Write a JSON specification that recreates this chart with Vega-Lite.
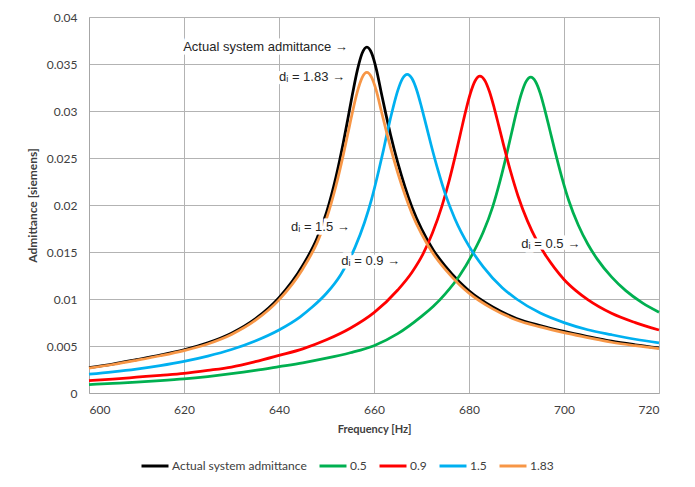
{
  "$schema": "https://vega.github.io/schema/vega-lite/v6.json",
  "width": 570,
  "height": 376,
  "autosize": {"type": "none"},
  "padding": {"left": 89, "top": 17, "right": 36, "bottom": 94},
  "background": "white",
  "config": {
    "view": {"stroke": null},
    "axis": {"gridColor": "#b3b3b3", "gridWidth": 1, "domainColor": "#a6a6a6", "labelFont": "Lato", "labelFontSize": 12, "labelColor": "#404040", "titleFont": "Lato", "titleFontSize": 11, "titleFontWeight": "bold", "titleColor": "#404040", "ticks": false}
  },
  "datasets": {
    "curves": [
      {"f": 600, "y": 0.0027, "s": "Actual system admittance"},
      {"f": 605, "y": 0.00308, "s": "Actual system admittance"},
      {"f": 610, "y": 0.00355, "s": "Actual system admittance"},
      {"f": 615, "y": 0.00404, "s": "Actual system admittance"},
      {"f": 620, "y": 0.0046, "s": "Actual system admittance"},
      {"f": 625, "y": 0.00533, "s": "Actual system admittance"},
      {"f": 630, "y": 0.00636, "s": "Actual system admittance"},
      {"f": 635, "y": 0.00788, "s": "Actual system admittance"},
      {"f": 640, "y": 0.01014, "s": "Actual system admittance"},
      {"f": 645, "y": 0.01356, "s": "Actual system admittance"},
      {"f": 648, "y": 0.01646, "s": "Actual system admittance"},
      {"f": 650, "y": 0.0192, "s": "Actual system admittance"},
      {"f": 652, "y": 0.02299, "s": "Actual system admittance"},
      {"f": 653.5, "y": 0.02653, "s": "Actual system admittance"},
      {"f": 654.5, "y": 0.02917, "s": "Actual system admittance"},
      {"f": 655.5, "y": 0.03188, "s": "Actual system admittance"},
      {"f": 656.5, "y": 0.03435, "s": "Actual system admittance"},
      {"f": 657.5, "y": 0.03614, "s": "Actual system admittance"},
      {"f": 658.5, "y": 0.0368, "s": "Actual system admittance"},
      {"f": 659.5, "y": 0.03616, "s": "Actual system admittance"},
      {"f": 660.5, "y": 0.03443, "s": "Actual system admittance"},
      {"f": 661.5, "y": 0.03203, "s": "Actual system admittance"},
      {"f": 662.5, "y": 0.02967, "s": "Actual system admittance"},
      {"f": 663.5, "y": 0.02745, "s": "Actual system admittance"},
      {"f": 665, "y": 0.0245, "s": "Actual system admittance"},
      {"f": 666.5, "y": 0.02196, "s": "Actual system admittance"},
      {"f": 668, "y": 0.01977, "s": "Actual system admittance"},
      {"f": 670, "y": 0.01746, "s": "Actual system admittance"},
      {"f": 672.5, "y": 0.0152, "s": "Actual system admittance"},
      {"f": 675, "y": 0.01349, "s": "Actual system admittance"},
      {"f": 678, "y": 0.0118, "s": "Actual system admittance"},
      {"f": 680, "y": 0.01087, "s": "Actual system admittance"},
      {"f": 685, "y": 0.00915, "s": "Actual system admittance"},
      {"f": 690, "y": 0.00793, "s": "Actual system admittance"},
      {"f": 695, "y": 0.00717, "s": "Actual system admittance"},
      {"f": 700, "y": 0.00655, "s": "Actual system admittance"},
      {"f": 705, "y": 0.00601, "s": "Actual system admittance"},
      {"f": 710, "y": 0.00551, "s": "Actual system admittance"},
      {"f": 715, "y": 0.00513, "s": "Actual system admittance"},
      {"f": 720, "y": 0.0048, "s": "Actual system admittance"},

      {"f": 600, "y": 0.0009, "s": "0.5"},
      {"f": 605, "y": 0.00102, "s": "0.5"},
      {"f": 610, "y": 0.00115, "s": "0.5"},
      {"f": 615, "y": 0.00131, "s": "0.5"},
      {"f": 620, "y": 0.0015, "s": "0.5"},
      {"f": 625, "y": 0.00175, "s": "0.5"},
      {"f": 630, "y": 0.00205, "s": "0.5"},
      {"f": 635, "y": 0.0024, "s": "0.5"},
      {"f": 640, "y": 0.0028, "s": "0.5"},
      {"f": 645, "y": 0.00321, "s": "0.5"},
      {"f": 650, "y": 0.0037, "s": "0.5"},
      {"f": 655, "y": 0.00428, "s": "0.5"},
      {"f": 660, "y": 0.00503, "s": "0.5"},
      {"f": 665, "y": 0.00631, "s": "0.5"},
      {"f": 670, "y": 0.00815, "s": "0.5"},
      {"f": 672.5, "y": 0.00922, "s": "0.5"},
      {"f": 675, "y": 0.01055, "s": "0.5"},
      {"f": 678, "y": 0.01248, "s": "0.5"},
      {"f": 681, "y": 0.01503, "s": "0.5"},
      {"f": 683, "y": 0.01712, "s": "0.5"},
      {"f": 685, "y": 0.01983, "s": "0.5"},
      {"f": 686.5, "y": 0.02248, "s": "0.5"},
      {"f": 688, "y": 0.02554, "s": "0.5"},
      {"f": 689, "y": 0.02774, "s": "0.5"},
      {"f": 690, "y": 0.0299, "s": "0.5"},
      {"f": 691, "y": 0.03179, "s": "0.5"},
      {"f": 692, "y": 0.03312, "s": "0.5"},
      {"f": 693, "y": 0.0336, "s": "0.5"},
      {"f": 694, "y": 0.03314, "s": "0.5"},
      {"f": 695, "y": 0.03188, "s": "0.5"},
      {"f": 696, "y": 0.03005, "s": "0.5"},
      {"f": 697, "y": 0.02801, "s": "0.5"},
      {"f": 698, "y": 0.02595, "s": "0.5"},
      {"f": 699.5, "y": 0.02303, "s": "0.5"},
      {"f": 701, "y": 0.02048, "s": "0.5"},
      {"f": 703, "y": 0.01787, "s": "0.5"},
      {"f": 705, "y": 0.01585, "s": "0.5"},
      {"f": 707, "y": 0.01424, "s": "0.5"},
      {"f": 710, "y": 0.01235, "s": "0.5"},
      {"f": 713, "y": 0.01089, "s": "0.5"},
      {"f": 716.5, "y": 0.00959, "s": "0.5"},
      {"f": 720, "y": 0.0086, "s": "0.5"},

      {"f": 600, "y": 0.00131, "s": "0.9"},
      {"f": 605, "y": 0.00148, "s": "0.9"},
      {"f": 610, "y": 0.00168, "s": "0.9"},
      {"f": 615, "y": 0.00188, "s": "0.9"},
      {"f": 620, "y": 0.00209, "s": "0.9"},
      {"f": 625, "y": 0.0024, "s": "0.9"},
      {"f": 630, "y": 0.00276, "s": "0.9"},
      {"f": 635, "y": 0.00333, "s": "0.9"},
      {"f": 640, "y": 0.004, "s": "0.9"},
      {"f": 645, "y": 0.0047, "s": "0.9"},
      {"f": 650, "y": 0.00566, "s": "0.9"},
      {"f": 655, "y": 0.00689, "s": "0.9"},
      {"f": 660, "y": 0.00855, "s": "0.9"},
      {"f": 665, "y": 0.01096, "s": "0.9"},
      {"f": 668, "y": 0.01285, "s": "0.9"},
      {"f": 670.3, "y": 0.01477, "s": "0.9"},
      {"f": 672.3, "y": 0.01702, "s": "0.9"},
      {"f": 674.3, "y": 0.01989, "s": "0.9"},
      {"f": 675.8, "y": 0.02254, "s": "0.9"},
      {"f": 677.3, "y": 0.02562, "s": "0.9"},
      {"f": 678.3, "y": 0.02782, "s": "0.9"},
      {"f": 679.3, "y": 0.02999, "s": "0.9"},
      {"f": 680.3, "y": 0.03189, "s": "0.9"},
      {"f": 681.3, "y": 0.03322, "s": "0.9"},
      {"f": 682.3, "y": 0.0337, "s": "0.9"},
      {"f": 683.3, "y": 0.03327, "s": "0.9"},
      {"f": 684.3, "y": 0.03207, "s": "0.9"},
      {"f": 685.3, "y": 0.03034, "s": "0.9"},
      {"f": 686.3, "y": 0.02836, "s": "0.9"},
      {"f": 687.3, "y": 0.02635, "s": "0.9"},
      {"f": 688.8, "y": 0.02349, "s": "0.9"},
      {"f": 690.3, "y": 0.02099, "s": "0.9"},
      {"f": 692.3, "y": 0.01831, "s": "0.9"},
      {"f": 694.3, "y": 0.01618, "s": "0.9"},
      {"f": 696.3, "y": 0.01451, "s": "0.9"},
      {"f": 698, "y": 0.01331, "s": "0.9"},
      {"f": 700, "y": 0.01208, "s": "0.9"},
      {"f": 702.5, "y": 0.01089, "s": "0.9"},
      {"f": 705, "y": 0.00993, "s": "0.9"},
      {"f": 710, "y": 0.00848, "s": "0.9"},
      {"f": 715, "y": 0.00749, "s": "0.9"},
      {"f": 720, "y": 0.0067, "s": "0.9"},

      {"f": 600, "y": 0.002, "s": "1.5"},
      {"f": 605, "y": 0.00225, "s": "1.5"},
      {"f": 610, "y": 0.00255, "s": "1.5"},
      {"f": 615, "y": 0.00292, "s": "1.5"},
      {"f": 620, "y": 0.00337, "s": "1.5"},
      {"f": 625, "y": 0.00393, "s": "1.5"},
      {"f": 630, "y": 0.00463, "s": "1.5"},
      {"f": 635, "y": 0.00554, "s": "1.5"},
      {"f": 640, "y": 0.00671, "s": "1.5"},
      {"f": 644.4, "y": 0.00808, "s": "1.5"},
      {"f": 647, "y": 0.00914, "s": "1.5"},
      {"f": 650, "y": 0.01061, "s": "1.5"},
      {"f": 653, "y": 0.01259, "s": "1.5"},
      {"f": 656, "y": 0.01549, "s": "1.5"},
      {"f": 658, "y": 0.01814, "s": "1.5"},
      {"f": 659.5, "y": 0.02063, "s": "1.5"},
      {"f": 661, "y": 0.02367, "s": "1.5"},
      {"f": 662, "y": 0.02586, "s": "1.5"},
      {"f": 663, "y": 0.02821, "s": "1.5"},
      {"f": 664, "y": 0.03032, "s": "1.5"},
      {"f": 665, "y": 0.03216, "s": "1.5"},
      {"f": 666, "y": 0.03344, "s": "1.5"},
      {"f": 667, "y": 0.0339, "s": "1.5"},
      {"f": 668, "y": 0.03345, "s": "1.5"},
      {"f": 669, "y": 0.03221, "s": "1.5"},
      {"f": 670, "y": 0.03042, "s": "1.5"},
      {"f": 671, "y": 0.02844, "s": "1.5"},
      {"f": 672, "y": 0.02644, "s": "1.5"},
      {"f": 673.5, "y": 0.02365, "s": "1.5"},
      {"f": 675, "y": 0.02118, "s": "1.5"},
      {"f": 677, "y": 0.01857, "s": "1.5"},
      {"f": 680, "y": 0.01562, "s": "1.5"},
      {"f": 683, "y": 0.01342, "s": "1.5"},
      {"f": 687, "y": 0.0112, "s": "1.5"},
      {"f": 690, "y": 0.01, "s": "1.5"},
      {"f": 695, "y": 0.0085, "s": "1.5"},
      {"f": 700, "y": 0.00749, "s": "1.5"},
      {"f": 705, "y": 0.00673, "s": "1.5"},
      {"f": 710, "y": 0.0062, "s": "1.5"},
      {"f": 715, "y": 0.00572, "s": "1.5"},
      {"f": 720, "y": 0.00534, "s": "1.5"},

      {"f": 600, "y": 0.00265, "s": "1.83"},
      {"f": 605, "y": 0.00303, "s": "1.83"},
      {"f": 610, "y": 0.00348, "s": "1.83"},
      {"f": 615, "y": 0.00396, "s": "1.83"},
      {"f": 620, "y": 0.00451, "s": "1.83"},
      {"f": 625, "y": 0.00522, "s": "1.83"},
      {"f": 630, "y": 0.00623, "s": "1.83"},
      {"f": 635, "y": 0.00772, "s": "1.83"},
      {"f": 640, "y": 0.00991, "s": "1.83"},
      {"f": 645, "y": 0.0132, "s": "1.83"},
      {"f": 648, "y": 0.01597, "s": "1.83"},
      {"f": 650, "y": 0.01855, "s": "1.83"},
      {"f": 652, "y": 0.02205, "s": "1.83"},
      {"f": 653.5, "y": 0.02525, "s": "1.83"},
      {"f": 654.5, "y": 0.0276, "s": "1.83"},
      {"f": 655.5, "y": 0.02995, "s": "1.83"},
      {"f": 656.5, "y": 0.03205, "s": "1.83"},
      {"f": 657.5, "y": 0.03355, "s": "1.83"},
      {"f": 658.5, "y": 0.0341, "s": "1.83"},
      {"f": 659.5, "y": 0.03357, "s": "1.83"},
      {"f": 660.5, "y": 0.03213, "s": "1.83"},
      {"f": 661.5, "y": 0.03008, "s": "1.83"},
      {"f": 662.5, "y": 0.02804, "s": "1.83"},
      {"f": 663.5, "y": 0.02608, "s": "1.83"},
      {"f": 665, "y": 0.02343, "s": "1.83"},
      {"f": 666.5, "y": 0.02111, "s": "1.83"},
      {"f": 668, "y": 0.01908, "s": "1.83"},
      {"f": 670, "y": 0.01692, "s": "1.83"},
      {"f": 672.5, "y": 0.01478, "s": "1.83"},
      {"f": 675, "y": 0.01314, "s": "1.83"},
      {"f": 678, "y": 0.01152, "s": "1.83"},
      {"f": 680, "y": 0.01062, "s": "1.83"},
      {"f": 685, "y": 0.00895, "s": "1.83"},
      {"f": 690, "y": 0.00777, "s": "1.83"},
      {"f": 695, "y": 0.00703, "s": "1.83"},
      {"f": 700, "y": 0.00642, "s": "1.83"},
      {"f": 705, "y": 0.0059, "s": "1.83"},
      {"f": 710, "y": 0.0054, "s": "1.83"},
      {"f": 715, "y": 0.00503, "s": "1.83"},
      {"f": 720, "y": 0.00472, "s": "1.83"}
    ],
    "notes": [
      {"f": 654.5, "y": 0.0368, "t": "Actual system admittance →"},
      {"f": 653.9, "y": 0.03365, "t": "dᵢ = 1.83 →"},
      {"f": 654.9, "y": 0.0177, "t": "dᵢ = 1.5 →"},
      {"f": 665.5, "y": 0.0140, "t": "dᵢ = 0.9 →"},
      {"f": 703.4, "y": 0.0159, "t": "dᵢ = 0.5 →"}
    ]
  },
  "layer": [
    {
      "data": {"name": "curves"},
      "mark": {"type": "line", "interpolate": "monotone", "strokeWidth": 2.75},
      "encoding": {
        "x": {"field": "f", "type": "quantitative", "scale": {"domain": [600, 720], "nice": false}, "axis": {"values": [600, 620, 640, 660, 680, 700, 720], "title": "Frequency [Hz]", "labelPadding": 11, "titlePadding": 8}},
        "y": {"field": "y", "type": "quantitative", "scale": {"domain": [0, 0.04], "nice": false}, "axis": {"values": [0, 0.005, 0.01, 0.015, 0.02, 0.025, 0.03, 0.035, 0.04], "format": "~g", "title": "Admittance [siemens]", "titleFontSize": 12, "labelPadding": 12, "titlePadding": 7}},
        "color": {"field": "s", "type": "nominal", "sort": null,
          "scale": {"domain": ["Actual system admittance", "0.5", "0.9", "1.5", "1.83"], "range": ["#000000", "#00B050", "#FF0000", "#00B0F0", "#F79646"]},
          "legend": {"title": null, "orient": "none", "legendX": 51, "legendY": 434, "direction": "horizontal", "symbolType": "stroke", "symbolSize": 729, "symbolStrokeWidth": 3, "labelFont": "Lato", "labelFontSize": 12, "labelColor": "#404040", "labelOffset": 2, "columnPadding": 6}}
      }
    },
    {
      "data": {"name": "notes"},
      "mark": {"type": "text", "align": "right", "baseline": "middle", "font": "Liberation Sans", "fontSize": 13, "stroke": "white", "strokeWidth": 7, "fill": "white"},
      "encoding": {"x": {"field": "f", "type": "quantitative"}, "y": {"field": "y", "type": "quantitative"}, "text": {"field": "t"}}
    },
    {
      "data": {"name": "notes"},
      "mark": {"type": "text", "align": "right", "baseline": "middle", "font": "Liberation Sans", "fontSize": 13, "color": "#262626"},
      "encoding": {"x": {"field": "f", "type": "quantitative"}, "y": {"field": "y", "type": "quantitative"}, "text": {"field": "t"}}
    }
  ]
}
